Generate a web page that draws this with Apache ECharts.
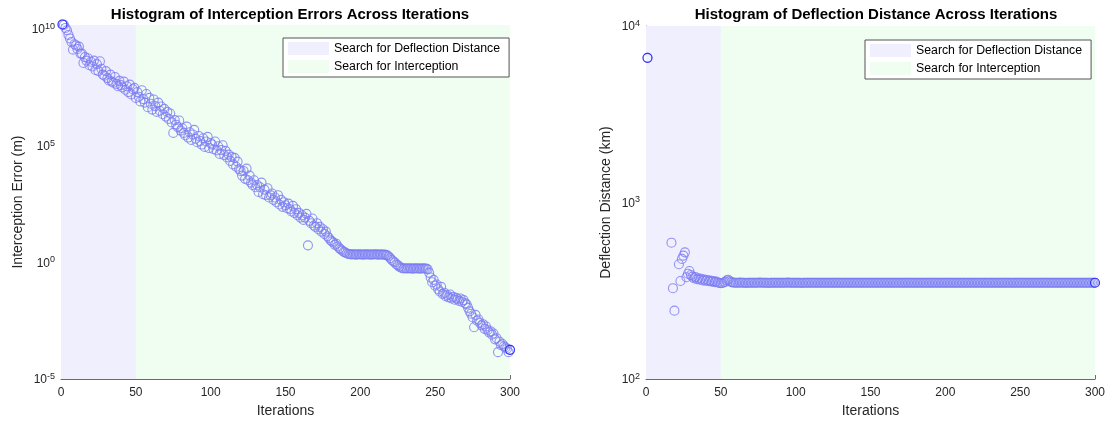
<!DOCTYPE html>
<html>
<head>
<meta charset="utf-8">
<script src="https://cdn.jsdelivr.net/npm/echarts@6/dist/echarts.min.js"></script>
<style>
  html, body { margin: 0; padding: 0; background: #fff; }
  #chart { width: 1108px; height: 425px; }
</style>
</head>
<body>
<div id="chart"></div>
<script>
// log10 of the interception error (m) for iterations 1..300
const interceptionExp = [
  10.2, 10.18, 10.05, 9.95, 9.75, 9.6, 9.45, 9.12, 9.35, 9.3,
  9.15, 9.25, 8.95, 8.95, 8.55, 8.8, 8.65, 8.75, 8.45, 8.6,
  8.4, 8.65, 8.25, 8.5, 8.2, 8.62, 8.3, 8.05, 8.0, 8.2,
  7.9, 7.8, 8.05, 7.75, 7.7, 7.95, 7.65, 7.55, 7.78, 7.6,
  7.5, 7.75, 7.4, 7.55, 7.3, 7.62, 7.2, 7.42, 7.48, 7.05,
  7.3, 7.1, 6.9, 7.38, 7.0, 6.85, 7.22, 6.65, 7.05, 6.8,
  6.55, 6.98, 6.7, 6.45, 6.85, 6.5, 6.68, 6.35, 6.58, 6.25,
  6.45, 6.15, 6.38, 6.0, 5.55, 6.1, 5.9, 5.8, 6.08, 5.65,
  5.75, 5.55, 5.45, 5.82, 5.35, 5.58, 5.25, 5.48, 5.68, 5.3,
  5.15, 5.42, 5.2, 5.05, 5.32, 4.95, 5.18, 5.38, 4.9, 5.12,
  5.05, 4.85, 5.18, 4.8, 4.98, 4.65, 4.82, 5.02, 4.6, 4.78,
  4.5, 4.62, 4.35, 4.52, 4.2, 4.48, 4.1, 4.32, 4.0, 3.92,
  3.72, 3.92, 3.58, 4.02, 3.52, 3.72, 3.42, 3.32, 3.52, 3.22,
  3.32, 3.02, 3.22, 3.42, 2.92, 3.12, 2.88, 3.18, 2.78, 2.88,
  2.95, 2.68, 2.78, 2.58, 2.88, 2.48, 2.68, 2.38, 2.58, 2.45,
  2.32, 2.52, 2.28, 2.18, 2.42, 2.12, 2.28, 2.02, 2.12, 1.92,
  2.02, 1.82, 1.92, 2.08, 0.73, 1.78, 1.68, 1.88, 1.58, 1.52,
  1.68, 1.42, 1.52, 1.32, 1.42, 1.22, 1.32, 1.12, 1.05, 0.95,
  0.9, 0.85, 0.75, 0.8, 0.68, 0.6, 0.55, 0.5, 0.45, 0.42,
  0.38, 0.36, 0.35, 0.34, 0.35, 0.34, 0.33, 0.34, 0.35, 0.34,
  0.34, 0.33, 0.34, 0.35, 0.34, 0.34, 0.33, 0.34, 0.34, 0.35,
  0.34, 0.33, 0.34, 0.34, 0.33, 0.34, 0.32, 0.3, 0.25, 0.18,
  0.1, 0.05, 0.0, -0.08, -0.12, -0.18, -0.22, -0.25, -0.26, -0.25,
  -0.26, -0.26, -0.25, -0.26, -0.27, -0.26, -0.25, -0.26, -0.26, -0.27,
  -0.26, -0.25, -0.26, -0.27, -0.3, -0.45, -0.65, -0.85, -0.75, -1.0,
  -0.95, -1.15, -1.25, -1.05, -1.35, -1.3, -1.45, -1.4, -1.5, -1.38,
  -1.55, -1.48, -1.6, -1.52, -1.58, -1.65, -1.55, -1.7, -1.62, -1.75,
  -1.8, -1.95, -2.1, -2.2, -2.35, -2.78, -2.25, -2.5, -2.45, -2.6,
  -2.7, -2.65, -2.85, -2.75, -2.9, -3.0, -2.95, -3.1, -3.05, -3.3,
  -3.25, -3.85, -3.4, -3.55, -3.5, -3.6, -3.65, -3.7, -3.85, -3.75
];

// deflection distance (km) for iterations 1..300, null where nothing is drawn
const deflectionKm = [
  6600, null, null, null, null, null, null, null, null, null,
  null, null, null, null, null, null, 592, 327, 244, null,
  null, 447, 359, 479, 500, 522, 377, 395, 409, 388,
  380, 372, 378, 368, 372, 365, 370, 362, 366, 360,
  364, 358, 361, 356, 359, 354, 356, 352, 350, 349,
  350, 352, 355, 362, 365, 358, 354, 352, 351, 351,
  351, 351, 352, 351, 351, 351, 350, 351, 351, 351,
  351, 351, 351, 351, 351, 352, 351, 351, 351, 351,
  351, 350, 351, 351, 351, 351, 351, 351, 351, 351,
  351, 351, 351, 351, 352, 351, 351, 351, 351, 351,
  351, 351, 351, 350, 351, 351, 351, 351, 351, 351,
  351, 351, 351, 351, 351, 351, 351, 351, 351, 351,
  351, 351, 351, 351, 351, 351, 351, 351, 351, 351,
  351, 351, 351, 351, 351, 351, 351, 351, 351, 351,
  351, 351, 351, 351, 351, 351, 351, 351, 351, 351,
  351, 351, 351, 351, 351, 351, 351, 351, 351, 351,
  351, 351, 351, 351, 351, 351, 351, 351, 351, 351,
  351, 351, 351, 351, 351, 351, 351, 351, 351, 351,
  351, 351, 351, 351, 351, 351, 351, 351, 351, 351,
  351, 351, 351, 351, 351, 351, 351, 351, 351, 351,
  351, 351, 351, 351, 351, 351, 351, 351, 351, 351,
  351, 351, 351, 351, 351, 351, 351, 351, 351, 351,
  351, 351, 351, 351, 351, 351, 351, 351, 351, 351,
  351, 351, 351, 351, 351, 351, 351, 351, 351, 351,
  351, 351, 351, 351, 351, 351, 351, 351, 351, 351,
  351, 351, 351, 351, 351, 351, 351, 351, 351, 351,
  351, 351, 351, 351, 351, 351, 351, 351, 351, 351,
  351, 351, 351, 351, 351, 351, 351, 351, 351, 351,
  351, 351, 351, 351, 351, 351, 351, 351, 351, 351,
  351, 351, 351, 351, 351, 351, 351, 351, 351, 351
];

const phaseNames = ["Search for Deflection Distance", "Search for Interception"];
const phaseRanges = [[0, 50], [50, 300]];

const xRange = [0, 300];
const xStep = 50;
const errorRange = [1e-5, 1.5e10];
const errorLabels = [1e-5, 1, 1e5, 1e10];
const errorTicks = [1e-5, 1e-4, 1e-3, 1e-2, 1e-1, 1, 10, 100, 1e3, 1e4, 1e5, 1e6, 1e7, 1e8, 1e9, 1e10];
const deflRange = [100, 10000];
const deflLabels = [100, 1000, 10000];
const deflTicks = [100, 200, 300, 400, 500, 600, 700, 800, 900,
  1000, 2000, 3000, 4000, 5000, 6000, 7000, 8000, 9000, 10000];

const chart = echarts.init(document.getElementById("chart"));

const FONT = "Liberation Sans, Arial, Helvetica, sans-serif";
const TXT = "#262626";
const AXIS = "#6b6b6b";
const shadeColors = ["#EFEFFD", "#F0FDF1"];
const dotColor = "#7a7af2";

const errorPts = interceptionExp.map((e, i) => [i + 1, Math.pow(10, e)]);
const deflPts = [];
deflectionKm.forEach((v, i) => { if (v != null) deflPts.push([i + 1, v]); });

function powLabel(v) {
  const e = Math.round(Math.log10(v));
  return "{b|10}{s|" + e + "}";
}
const powRich = {
  b: { fontSize: 12, color: TXT, fontFamily: FONT, lineHeight: 14, padding: [5, 0, 0, 0], verticalAlign: "bottom" },
  s: { fontSize: 9, color: TXT, fontFamily: FONT, lineHeight: 10, verticalAlign: "top" }
};

function xAxisFor(idx) {
  return {
    type: "value", gridIndex: idx, min: xRange[0], max: xRange[1], interval: xStep,
    name: "Iterations", nameLocation: "middle", nameGap: 25,
    nameTextStyle: { fontSize: 14, color: TXT, fontFamily: FONT },
    axisLine: { show: true, lineStyle: { color: AXIS, width: 1 } },
    axisTick: { show: true, inside: true, length: 4, lineStyle: { color: AXIS } },
    axisLabel: { fontSize: 12, color: TXT, fontFamily: FONT, margin: 8 },
    splitLine: { show: false }
  };
}

function yAxisFor(idx, name, range, labels, ticks, gap) {
  return {
    type: "log", logBase: 10, gridIndex: idx, min: range[0], max: range[1],
    name: name, nameLocation: "middle", nameGap: gap,
    nameTextStyle: { fontSize: 14, color: TXT, fontFamily: FONT },
    axisLine: { show: true, lineStyle: { color: AXIS, width: 1 } },
    axisTick: { show: true, inside: true, length: 3, customValues: ticks, lineStyle: { color: AXIS } },
    axisLabel: { customValues: labels, formatter: powLabel, rich: powRich, margin: 6 },
    splitLine: { show: false },
    minorTick: { show: false }
  };
}

function shadeSeries(gridIdx) {
  return phaseNames.map((name, k) => ({
    name: name, type: "line", xAxisIndex: gridIdx, yAxisIndex: gridIdx,
    data: [], symbol: "none", z: 1,
    itemStyle: { color: shadeColors[k] },
    lineStyle: { color: shadeColors[k] },
    markArea: {
      silent: true,
      itemStyle: { color: shadeColors[k] },
      data: [[{ xAxis: phaseRanges[k][0] }, { xAxis: phaseRanges[k][1] }]]
    }
  }));
}

function dotSeries(gridIdx, pts) {
  return [
    {
      type: "scatter", xAxisIndex: gridIdx, yAxisIndex: gridIdx, data: pts,
      symbol: "circle", symbolSize: 9, clip: false, z: 3, silent: true,
      itemStyle: { color: "rgba(0,0,0,0)", borderColor: dotColor, borderWidth: 1.1 }
    },
    {
      type: "scatter", xAxisIndex: gridIdx, yAxisIndex: gridIdx,
      data: [pts[0], pts[pts.length - 1]],
      symbol: "circle", symbolSize: 9, clip: false, z: 4, silent: true,
      itemStyle: { color: "rgba(0,0,0,0)", borderColor: "#1a1aff", borderWidth: 1.1 }
    }
  ];
}

function legendAt(left, top) {
  return {
    data: phaseNames, left: left, top: top, orient: "vertical",
    icon: "rect", itemWidth: 41, itemHeight: 13, itemGap: 5,
    padding: [4, 9, 4, 5], selectedMode: false,
    backgroundColor: "#fff", borderColor: "#555", borderWidth: 1,
    textStyle: { fontSize: 12.3, color: "#000", fontFamily: FONT }
  };
}

const titleStyle = { fontSize: 15, fontWeight: "bold", color: "#000", fontFamily: FONT };

chart.setOption({
  backgroundColor: "#fff",
  animation: false,
  title: [
    { text: "Histogram of Interception Errors Across Iterations", left: 285, top: 2, textAlign: "center", textStyle: titleStyle },
    { text: "Histogram of Deflection Distance Across Iterations", left: 871, top: 2, textAlign: "center", textStyle: titleStyle }
  ],
  legend: [legendAt(283, 38), legendAt(865, 40)],
  grid: [
    { left: 61, top: 25, width: 449, height: 354 },
    { left: 646, top: 26, width: 450, height: 353 }
  ],
  xAxis: [xAxisFor(0), xAxisFor(1)],
  yAxis: [
    yAxisFor(0, "Interception Error (m)", errorRange, errorLabels, errorTicks, 36),
    yAxisFor(1, "Deflection Distance (km)", deflRange, deflLabels, deflTicks, 33)
  ],
  series: [].concat(
    shadeSeries(0), dotSeries(0, errorPts),
    shadeSeries(1), dotSeries(1, deflPts)
  )
});
</script>
</body>
</html>
